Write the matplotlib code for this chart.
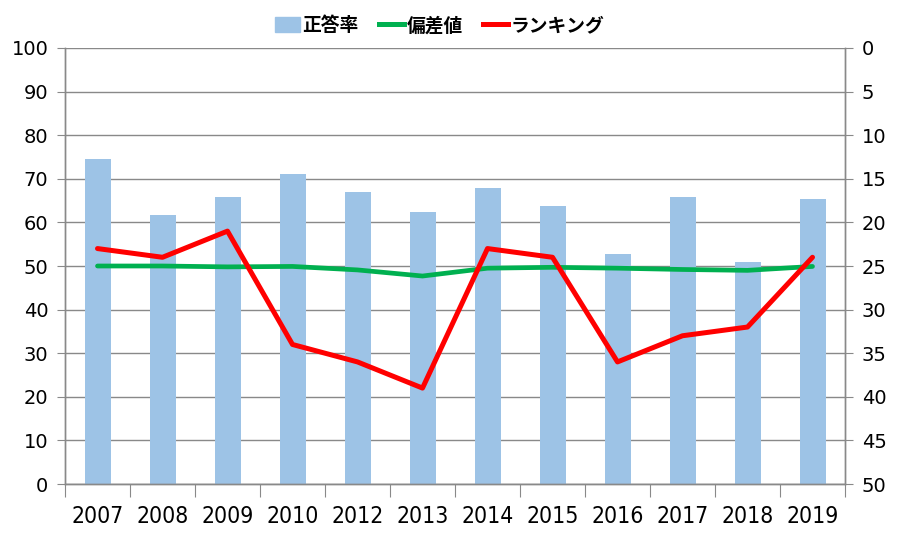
import matplotlib
matplotlib.use("Agg")
import matplotlib.pyplot as plt
from matplotlib.patches import Patch
from matplotlib.lines import Line2D
import numpy as np

years = ["2007", "2008", "2009", "2010", "2012", "2013", "2014", "2015", "2016", "2017", "2018", "2019"]
correct_rate = [74.5, 61.7, 65.8, 71.1, 67.0, 62.4, 67.9, 63.8, 52.8, 65.8, 50.9, 65.4]
deviation = [50.0, 50.0, 49.8, 49.9, 49.1, 47.7, 49.5, 49.7, 49.5, 49.2, 49.0, 49.9]
ranking = [23, 24, 21, 34, 36, 39, 23, 24, 36, 33, 32, 24]

jp_font = ["Noto Sans CJK JP", "DejaVu Sans"]

fig = plt.figure(figsize=(9.05, 5.46), dpi=100)
ax = fig.add_axes([65/905, 62/546, 780/905, 436/546])
ax2 = ax.twinx()

x = np.arange(len(years))
grid_c = "#898989"

ax.bar(x, correct_rate, width=0.4, color="#9dc3e6", zorder=2)
ax.plot(x, deviation, color="#00b050", lw=3.4, zorder=3, solid_capstyle="round")
ax2.plot(x, ranking, color="#ff0000", lw=3.6, zorder=4, solid_capstyle="round")

ax.set_xlim(-0.5, len(years) - 0.5)
ax.set_ylim(0, 100)
ax.set_yticks(range(0, 101, 10))
ax2.set_ylim(50, 0)
ax2.set_yticks(range(0, 51, 5))

ax.yaxis.grid(True, color=grid_c, lw=1)
ax.set_axisbelow(True)

for a in (ax, ax2):
    for s in a.spines.values():
        s.set_color(grid_c)
        s.set_linewidth(1)
    a.spines["top"].set_visible(False)

ax.set_xticks(np.arange(-0.5, len(years), 1.0))
ax.set_xticklabels([])
ax.set_xticks(x, minor=True)
ax.set_xticklabels(years, minor=True, fontsize=16.5, family="DejaVu Sans", fontstretch="condensed")
ax.tick_params(axis="x", which="major", length=9, color=grid_c, direction="out")
ax.tick_params(axis="x", which="minor", length=0, pad=15)
ax.tick_params(axis="y", length=6, color=grid_c, labelsize=14, pad=6)
ax2.tick_params(axis="y", length=6, color=grid_c, labelsize=14, pad=6)
for lab in ax.get_yticklabels() + ax2.get_yticklabels():
    lab.set_family("DejaVu Sans")

handles = [Patch(color="#9dc3e6"),
           Line2D([0], [0], color="#00b050", lw=3.6),
           Line2D([0], [0], color="#ff0000", lw=3.6)]
labels = ["正答率", "偏差値", "ランキング"]
fig.legend(handles, labels, loc="center", bbox_to_anchor=(0.486, 0.953), ncol=3,
           frameon=False, prop={"family": jp_font, "size": 13.5, "weight": "bold"},
           handlelength=1.3, handleheight=0.8, handletextpad=0.15, columnspacing=1.1)

fig.savefig("out.png", dpi=100)
